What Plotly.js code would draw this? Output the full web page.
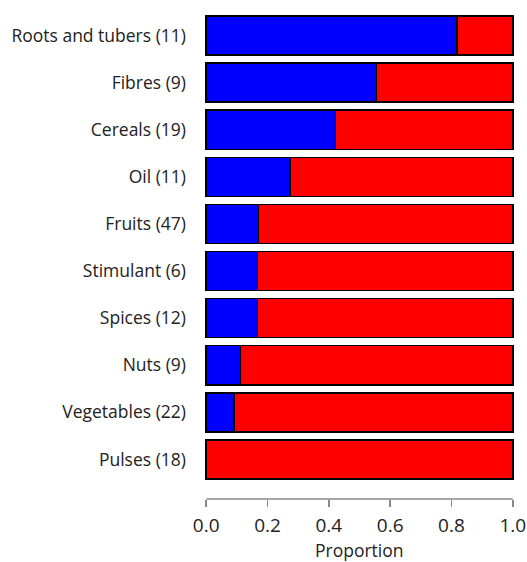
<!DOCTYPE html>
<html>
<head>
<meta charset="utf-8">
<script src="https://cdn.plot.ly/plotly-3.0.1.min.js"></script>
<style>html,body{margin:0;padding:0;background:#fff;}#chart{width:527px;height:562px;}</style>
</head>
<body>
<div id="chart"></div>
<script>
const categories = ["Roots and tubers (11)", "Fibres (9)", "Cereals (19)", "Oil (11)", "Fruits (47)",
  "Stimulant (6)", "Spices (12)", "Nuts (9)", "Vegetables (22)", "Pulses (18)"];
const blueValues = [0.818, 0.556, 0.421, 0.273, 0.170, 0.167, 0.167, 0.111, 0.091, 0.0];
const redValues = blueValues.map(v => 1 - v);
const xTickVals = [0, 0.2, 0.4, 0.6, 0.8, 1.0];
const xTickText = ["0.0", "0.2", "0.4", "0.6", "0.8", "1.0"];
const xTitle = "Proportion";

const common = {type: 'bar', orientation: 'h', y: categories, width: 0.83, hoverinfo: 'skip'};
const traces = [
  Object.assign({}, common, {x: blueValues, name: 'blue', marker: {color: '#0000FF', line: {color: '#000', width: 1.5}}}),
  Object.assign({}, common, {x: redValues, name: 'red', marker: {color: '#FF0000', line: {color: '#000', width: 1.5}}})
];
const plotH = 562 - 12 - 63;
const layout = {
  width: 527, height: 562,
  margin: {l: 205, r: 13, t: 12, b: 63},
  barmode: 'stack',
  showlegend: false,
  paper_bgcolor: '#fff', plot_bgcolor: '#fff',
  font: {family: 'Open Sans, sans-serif', color: '#222'},
  xaxis: {
    range: [-0.004, 1.004], tickvals: xTickVals, ticktext: xTickText,
    showgrid: false, zeroline: false, showline: false,
    ticks: 'outside', ticklen: 7, tickwidth: 1.5, tickcolor: '#888',
    ticklabelstandoff: 2,
    tickfont: {size: 19, color: '#222'}
  },
  yaxis: {
    categoryorder: 'array', categoryarray: categories,
    range: [9.84, -0.5],
    showgrid: false, zeroline: false, showline: false, ticks: '',
    ticklabelstandoff: 18,
    tickfont: {size: 17.5, color: '#222'}
  },
  annotations: [{
    text: xTitle, xref: 'paper', yref: 'paper', x: 0.5, y: -(550 - 499) / plotH,
    xanchor: 'center', yanchor: 'middle', showarrow: false,
    font: {size: 17.5, color: '#222'}
  }],
  shapes: [{type: 'line', xref: 'x', yref: 'paper', x0: 0, x1: 1, y0: 0, y1: 0, line: {color: '#888', width: 1.5}}]
};
Plotly.newPlot('chart', traces, layout, {displayModeBar: false, staticPlot: true});
</script>
</body>
</html>
